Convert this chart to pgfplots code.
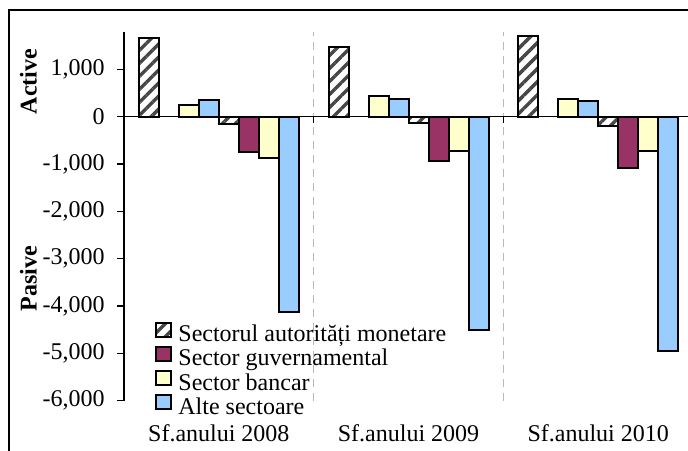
\documentclass[border=0pt]{standalone}
\usepackage{fontspec}
\setmainfont{Liberation Serif}
\usepackage{pgfplots}
\pgfplotsset{compat=1.18}
\usetikzlibrary{patterns.meta}
\definecolor{maroonx}{HTML}{993366}
\definecolor{yelx}{HTML}{FFFFCC}
\definecolor{bluex}{HTML}{99CCFF}
\pgfplotsset{
  mylegend/.style={legend image code/.code={\draw[##1] (0pt,0pt) rectangle (7.5pt,7pt);}},
  mybar/.style={ybar, bar width=0.10545, draw=black, line width=1pt},
  myhatch/.style={pattern={Lines[angle=45,distance=4.6pt,line width=1.7pt]}, pattern color=black!72},
}
\begin{document}
\begin{tikzpicture}
\useasboundingbox (0,0) rectangle (344pt,225pt);
\draw[line width=0.6pt] (4.5pt,-10pt) rectangle (360pt,220pt);
\node[rotate=90, font=\rmfamily\bfseries\fontsize{12pt}{14pt}\selectfont] at (14.25pt,184.25pt) {Active};
\node[rotate=90, font=\rmfamily\bfseries\fontsize{12pt}{14pt}\selectfont] at (14.25pt,85.75pt) {Pasive};
\begin{axis}[
  at={(62pt,24.75pt)}, anchor=south west,
  width=284.5pt, height=184.45pt, scale only axis,
  xmin=-0.5, xmax=2.5, ymin=-6000, ymax=1800,
  axis y line=left, axis x line=middle,
  axis line style={-, line width=0.6pt, black},
  hide obscured x ticks=false, hide obscured y ticks=false,
  ytick={-6000,-5000,-4000,-3000,-2000,-1000,0,1000},
  xtick={0,1,2},
  xticklabels={Sf.anului 2008, Sf.anului 2009, Sf.anului 2010},
  minor xtick={0.5,1.5},
  xminorgrids,
  minor x grid style={dash pattern=on 4pt off 3pt, gray!55, line width=0.5pt},
  major x tick style={draw=none},
  tick align=outside,
  major tick length=3.5pt, minor tick length=3pt,
  tick style={black, line width=0.6pt},
  /pgf/number format/.cd, 1000 sep={,}, assume math mode=true, /pgfplots/.cd,
  tick label style={font=\rmfamily\fontsize{12pt}{14pt}\selectfont},
  yticklabel style={inner sep=0pt, xshift=-6pt},
  xticklabel style={anchor=base, inner sep=0pt, yshift=-159pt},
  legend cell align=left,
  legend style={at={(0.0545,0.215)}, anchor=north west, draw=none, fill=none,
    inner sep=0pt, row sep=-0.85pt,
    font=\rmfamily\fontsize{12pt}{14pt}\selectfont,
    nodes={inner sep=0pt, text height=8pt, text depth=2.95pt},
    /tikz/every odd column/.style={column sep=3pt}},
]
\addplot[mybar, bar shift=-0.36906, myhatch, mylegend]
  coordinates {(0,1660) (1,1467) (2,1712)};
\addlegendentry{Sectorul autorități monetare}
\addplot[mybar, bar shift=0.15817, fill=maroonx, mylegend]
  coordinates {(0,-753) (1,-943) (2,-1091)};
\addlegendentry{Sector guvernamental}
\addplot[mybar, bar shift=-0.15817, fill=yelx, mylegend]
  coordinates {(0,245) (1,438) (2,374)};
\addlegendentry{Sector bancar}
\addplot[mybar, bar shift=-0.05272, fill=bluex, mylegend]
  coordinates {(0,347) (1,374) (2,332)};
\addlegendentry{Alte sectoare}
\addplot[mybar, forget plot, bar shift=0.05272, myhatch]
  coordinates {(0,-154) (1,-133) (2,-190)};
\addplot[mybar, forget plot, bar shift=0.26362, fill=yelx]
  coordinates {(0,-880) (1,-731) (2,-719)};
\addplot[mybar, forget plot, bar shift=0.36906, fill=bluex]
  coordinates {(0,-4135) (1,-4510) (2,-4947)};
\end{axis}
\end{tikzpicture}
\end{document}
